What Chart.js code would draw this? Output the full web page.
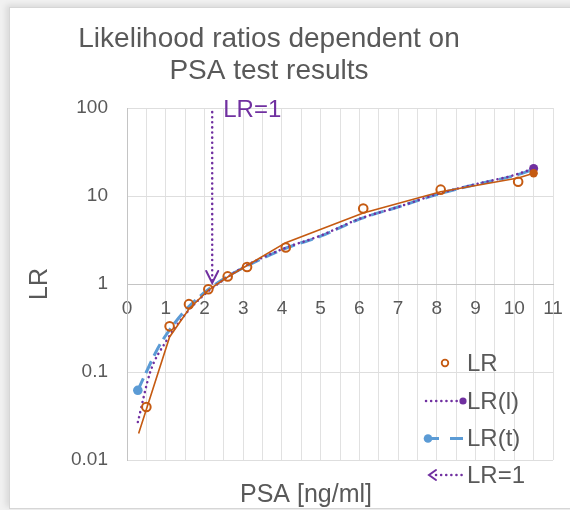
<!DOCTYPE html>
<html>
<head>
<meta charset="utf-8">
<script src="https://cdn.jsdelivr.net/npm/chart.js@4/dist/chart.umd.min.js"></script>
<style>
  html, body { margin: 0; padding: 0; width: 570px; height: 510px; overflow: hidden; background: #f1f1f1; }
  #frame { position: absolute; left: 9px; top: 7px; width: 590px; height: 500px; background: #fff;
           border: 1px solid #d6d6d6; box-shadow: -3px -2px 6px rgba(0,0,0,0.10); }
  #wrap { position: absolute; left: 0; top: 0; width: 570px; height: 510px; }
</style>
</head>
<body>
<div id="frame"></div>
<div id="wrap"><canvas id="c" width="570" height="510"></canvas></div>
<script>
// Chart text
const titleLines = ['Likelihood ratios dependent on', 'PSA test results'];
const xAxisTitle = 'PSA [ng/ml]';
const yAxisTitle = 'LR';
const cutoffLabel = 'LR=1';

// Axis ticks
const xTicks = [0, 1, 2, 3, 4, 5, 6, 7, 8, 9, 10, 11];
const yTicks = [0.01, 0.1, 1, 10, 100];

// Observed likelihood ratios per PSA interval
const lrPsa    = [0.5, 1.1, 1.6, 2.1, 2.6, 3.1, 4.1, 6.1, 8.1, 10.1];
const lrValues = [0.04, 0.33, 0.59, 0.87, 1.22, 1.56, 2.6, 7.2, 11.8, 14.5];

// Smoothed LR curve
const smoothPsa    = [0.3, 1.1, 1.6, 2.1, 2.6, 3.1, 4.1, 6.1, 8.1, 10.1, 10.5];
const smoothValues = [0.02, 0.25, 0.52, 0.85, 1.2, 1.62, 2.95, 6.4, 11.2, 16.0, 18.1];

// LR(l) model
const lPsa    = [0.28, 0.6, 1.0, 1.5, 2.0, 2.5, 3.0, 4.0, 5.0, 6.0, 7.0, 8.0, 9.0, 10.0, 10.5];
const lValues = [0.027, 0.1, 0.22, 0.45, 0.76, 1.12, 1.55, 2.48, 3.55, 5.5, 7.5, 10.5, 13.6, 17.3, 20.6];

// LR(t) model
const tPsa    = [0.28, 0.5, 0.75, 1.0, 1.5, 2.0, 2.5, 3.0, 4.0, 5.0, 6.0, 7.0, 8.0, 9.0, 10.0, 10.5];
const tValues = [0.062, 0.1, 0.17, 0.26, 0.5, 0.8, 1.15, 1.52, 2.45, 3.5, 5.45, 7.5, 10.4, 13.5, 17.0, 20.0];

// PSA value where LR = 1 (arrow from the top down to LR = 1)
const cutoffPsa    = [2.2, 2.2];
const cutoffValues = [90, 1];

const ORANGE = '#C55A11';
const PURPLE = '#7030A0';
const BLUE   = '#5B9BD5';
const TEXT   = '#595959';
const FONT   = "'Liberation Sans', Arial, sans-serif";

const pts = (xs, ys) => xs.map((x, i) => ({ x, y: ys[i] }));
const lastOnly = (r) => (ctx) => ctx.dataIndex === ctx.dataset.data.length - 1 ? r : 0;

function chevronDown(ctx, x, y, w, h) {
  ctx.beginPath();
  ctx.moveTo(x - w, y - h);
  ctx.lineTo(x, y);
  ctx.lineTo(x + w, y - h);
  ctx.stroke();
}
function chevronLeft(ctx, x, y, w, h) {
  ctx.beginPath();
  ctx.moveTo(x + w, y - h);
  ctx.lineTo(x, y);
  ctx.lineTo(x + w, y + h);
  ctx.stroke();
}

// Title, x-axis title, cutoff arrow head and label, legend
const decorations = {
  id: 'decorations',
  afterDatasetsDraw(chart) {
    const ctx = chart.ctx;
    ctx.save();
    // arrow head + label on the LR=1 marker
    const meta = chart.getDatasetMeta(4);
    const top = meta.data[0], tip = meta.data[meta.data.length - 1];
    ctx.strokeStyle = PURPLE;
    ctx.lineWidth = 2;
    ctx.lineCap = 'round';
    ctx.lineJoin = 'miter';
    chevronDown(ctx, tip.x, tip.y - 1, 6, 12);
    ctx.fillStyle = PURPLE;
    ctx.font = '24px ' + FONT;
    ctx.textAlign = 'left';
    ctx.textBaseline = 'alphabetic';
    ctx.fillText(cutoffLabel, top.x + 11, top.y + 5);
    ctx.restore();
  },
  afterDraw(chart) {
    const ctx = chart.ctx;
    ctx.save();
    ctx.fillStyle = TEXT;
    ctx.textAlign = 'center';
    ctx.textBaseline = 'alphabetic';
    ctx.font = '28px ' + FONT;
    ctx.fillText(titleLines[0], 269, 47);
    ctx.fillText(titleLines[1], 269, 78.5);
    ctx.font = '25px ' + FONT;
    ctx.fillText(xAxisTitle, 306, 502);

    // legend
    const tx = 467;
    const rows = [363, 401, 438.5, 475];
    ctx.textAlign = 'left';
    ctx.textBaseline = 'middle';
    ctx.font = '24px ' + FONT;
    const names = chart.data.datasets.map(d => d.label);
    // LR: open circle
    ctx.strokeStyle = ORANGE; ctx.lineWidth = 1.8;
    ctx.beginPath(); ctx.arc(445, rows[0], 3.3, 0, Math.PI * 2); ctx.stroke();
    // LR(l): dotted line ending in a dot
    ctx.strokeStyle = PURPLE; ctx.lineWidth = 2.5; ctx.lineCap = 'round';
    ctx.setLineDash([0.1, 5]);
    ctx.beginPath(); ctx.moveTo(426, rows[1]); ctx.lineTo(460, rows[1]); ctx.stroke();
    ctx.setLineDash([]);
    ctx.fillStyle = PURPLE;
    ctx.beginPath(); ctx.arc(463, rows[1], 3.6, 0, Math.PI * 2); ctx.fill();
    // LR(t): dot then dash
    ctx.strokeStyle = BLUE; ctx.lineWidth = 3; ctx.lineCap = 'butt';
    ctx.beginPath(); ctx.moveTo(428, rows[2]); ctx.lineTo(439, rows[2]); ctx.stroke();
    ctx.beginPath(); ctx.moveTo(450, rows[2]); ctx.lineTo(463, rows[2]); ctx.stroke();
    ctx.fillStyle = BLUE;
    ctx.beginPath(); ctx.arc(428, rows[2], 4.3, 0, Math.PI * 2); ctx.fill();
    // LR=1: dotted arrow pointing left
    ctx.strokeStyle = PURPLE; ctx.lineWidth = 2.5; ctx.lineCap = 'round';
    ctx.setLineDash([0.1, 5]);
    ctx.beginPath(); ctx.moveTo(436, rows[3]); ctx.lineTo(463, rows[3]); ctx.stroke();
    ctx.setLineDash([]);
    ctx.lineWidth = 2;
    chevronLeft(ctx, 429, rows[3], 7, 5);

    ctx.fillStyle = TEXT;
    [names[0], names[2], names[3], names[4]].forEach((n, i) => ctx.fillText(n, tx, rows[i] + 1));
    ctx.restore();
  }
};

const chart = new Chart(document.getElementById('c'), {
  type: 'scatter',
  data: {
    datasets: [
      { label: 'LR', data: pts(lrPsa, lrValues), showLine: false,
        pointStyle: 'circle', pointRadius: 4.3, pointBorderWidth: 2,
        pointBackgroundColor: 'rgba(0,0,0,0)', borderColor: ORANGE, order: 0 },
      { label: 'LR smooth', data: pts(smoothPsa, smoothValues), showLine: true,
        borderColor: ORANGE, borderWidth: 1.6, backgroundColor: ORANGE,
        pointRadius: lastOnly(4.2), pointBorderWidth: 0, pointBackgroundColor: ORANGE, order: 1 },
      { label: 'LR(l)', data: pts(lPsa, lValues), showLine: true, cubicInterpolationMode: 'monotone',
        borderColor: PURPLE, borderWidth: 2.5, borderDash: [0.1, 5], borderCapStyle: 'round',
        pointRadius: lastOnly(4.5), pointBorderWidth: 0, pointBackgroundColor: PURPLE, order: 2 },
      { label: 'LR(t)', data: pts(tPsa, tValues), showLine: true, cubicInterpolationMode: 'monotone',
        borderColor: BLUE, borderWidth: 3, borderDash: [13, 6],
        pointRadius: (ctx) => ctx.dataIndex === 0 ? 4.8 : 0, pointBorderWidth: 0,
        pointBackgroundColor: BLUE, order: 3 },
      { label: 'LR=1', data: pts(cutoffPsa, cutoffValues), showLine: true,
        borderColor: PURPLE, borderWidth: 2.5, borderDash: [0.1, 5], borderCapStyle: 'round',
        pointRadius: 0, order: 4 }
    ]
  },
  options: {
    responsive: false,
    animation: false,
    devicePixelRatio: 1,
    layout: { padding: { left: 10, top: 108, right: 17, bottom: 50 } },
    plugins: { legend: { display: false }, tooltip: { enabled: false }, title: { display: false } },
    elements: { line: { tension: 0 } },
    scales: {
      x: {
        type: 'linear', min: 0, max: 11,
        position: { y: 1 },
        afterBuildTicks: (s) => {
          const t = [];
          xTicks.forEach((v, i) => { t.push({ value: v }); if (i < xTicks.length - 1) t.push({ value: v + 0.5 }); });
          s.ticks = t;
        },
        // the end labels fit inside the layout padding already
        afterFit: (s) => { s.paddingLeft = 0; s.paddingRight = 0; },
        ticks: {
          color: TEXT, font: { family: FONT, size: 19 }, padding: 13, maxRotation: 0, autoSkip: false,
          callback: (v) => xTicks.includes(v) ? String(v) : ''
        },
        grid: { color: '#e1e1e1', lineWidth: 1, drawTicks: false },
        border: { color: '#c4c4c4', width: 1 }
      },
      y: {
        type: 'logarithmic', min: 0.01, max: 100, position: 'left',
        afterBuildTicks: (s) => { s.ticks = yTicks.map(v => ({ value: v })); },
        afterFit: (s) => { s.width = 117; },
        ticks: { color: TEXT, font: { family: FONT, size: 19 }, padding: 19,
                 callback: (v) => String(v) },
        grid: { color: '#dedede', lineWidth: 1, drawTicks: false },
        border: { color: '#c4c4c4', width: 1 },
        title: { display: true, text: yAxisTitle, color: TEXT, font: { family: FONT, size: 25 },
                 padding: { top: 15, bottom: 0 } }
      }
    }
  },
  plugins: [decorations]
});
</script>
</body>
</html>
